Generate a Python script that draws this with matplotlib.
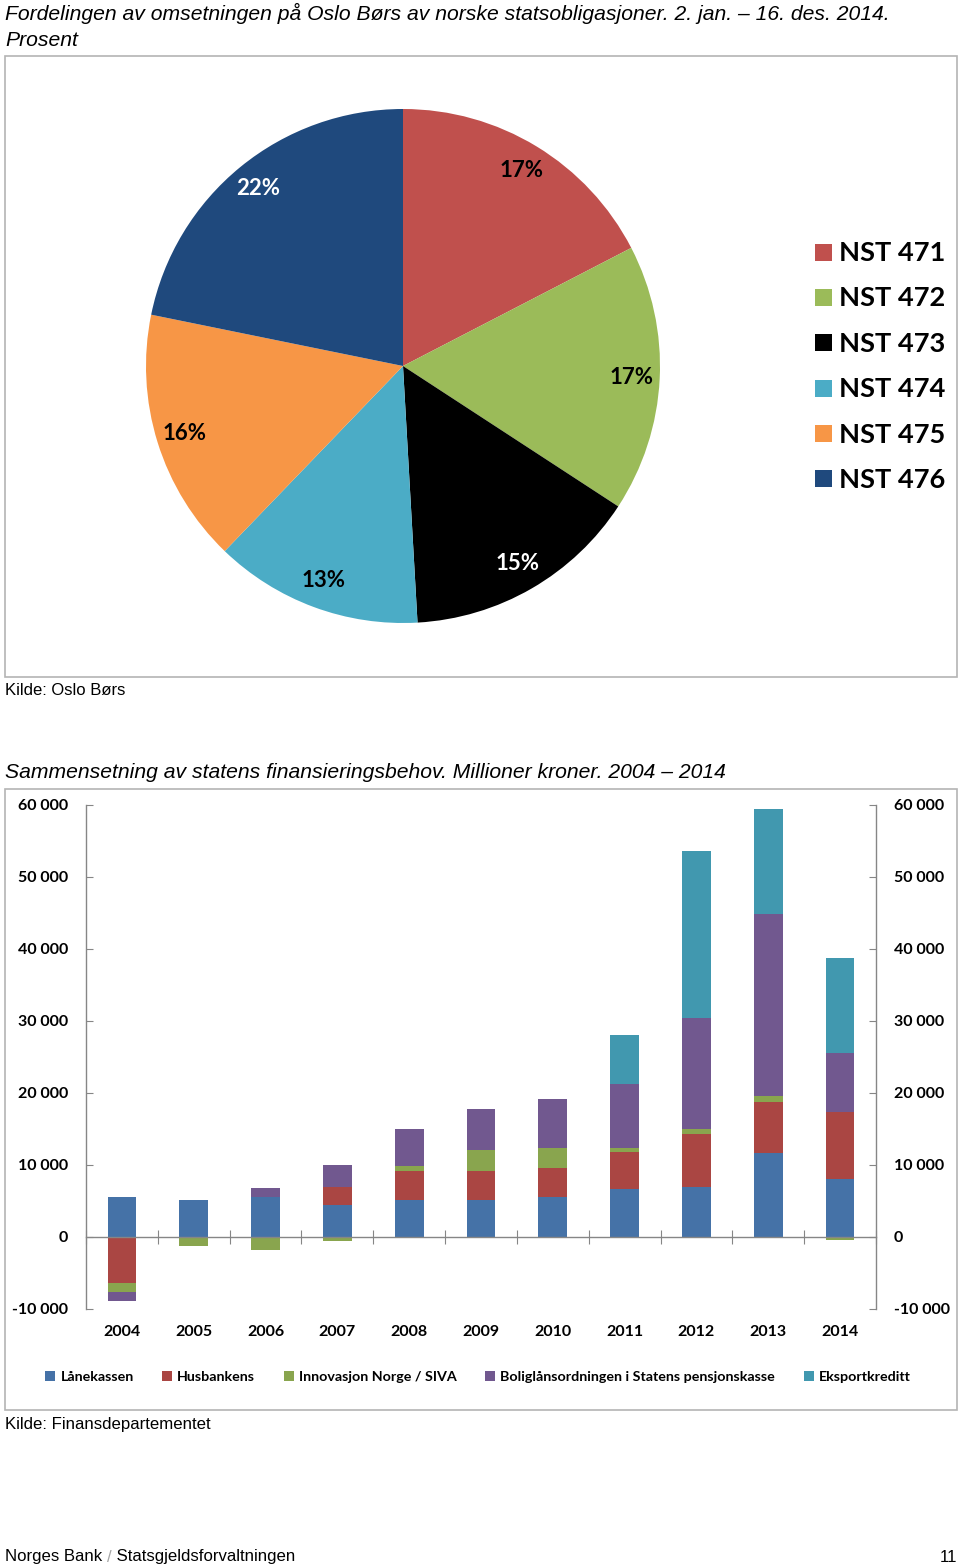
import numpy as np
import matplotlib
matplotlib.use("Agg")
import matplotlib.pyplot as plt
from matplotlib.patches import Rectangle
from matplotlib.ticker import FuncFormatter, FixedLocator
import matplotlib.transforms as mtrans

# ---------------- data ----------------
pie_labels = ["NST 471", "NST 472", "NST 473", "NST 474", "NST 475", "NST 476"]
pie_values = [17.4, 16.8, 14.9, 13.1, 16.0, 21.8]
pie_colors = ["#C0504D", "#9BBB59", "#000000", "#4BACC6", "#F79646", "#1F497D"]
pie_text_colors = ["black", "black", "white", "black", "black", "white"]

years = ["2004", "2005", "2006", "2007", "2008", "2009", "2010", "2011", "2012", "2013", "2014"]
laanekassen = [5500, 5200, 5500, 4500, 5200, 5200, 5600, 6600, 7000, 11600, 8100]
husbanken = [-6400, 0, 0, 2400, 4000, 3950, 4030, 5230, 7360, 7150, 9300]
innovasjon = [-1300, -1200, -1800, -600, 700, 2870, 2780, 470, 600, 790, -400]
boliglaan = [-1200, 0, 1300, 3050, 5040, 5700, 6730, 8980, 15500, 25300, 8200]
eksport = [0, 0, 0, 0, 0, 0, 0, 6720, 23150, 14600, 13150]
series_names = ["Lånekassen", "Husbankens", "Innovasjon Norge / SIVA",
                "Boliglånsordningen i Statens pensjonskasse", "Eksportkreditt"]
series_colors = ["#4572A7", "#AA4643", "#89A54E", "#71588F", "#4198AF"]
yticks = [-10000, 0, 10000, 20000, 30000, 40000, 50000, 60000]

W, H = 960, 1568
def fx(px):
    return px / W
def fy(py):
    return 1 - py / H

fig = plt.figure(figsize=(W / 100, H / 100), dpi=100)

SANS = ["Liberation Sans", "DejaVu Sans"]
NARROW = ["Liberation Sans Narrow", "Liberation Sans", "DejaVu Sans"]
CAL = ["Lato", "DejaVu Sans"]
FRAME = "#B4B4B4"

# ---------------- panel frames ----------------
for (x0, y0, x1, y1) in [(5, 56, 957, 677), (5, 789, 957, 1410)]:
    fig.add_artist(Rectangle((fx(x0), fy(y1)), fx(x1) - fx(x0), fy(y0) - fy(y1),
                             transform=fig.transFigure, fill=False,
                             edgecolor=FRAME, linewidth=1.2))

# ---------------- titles / sources ----------------
fig.text(fx(5), fy(13), "Fordelingen av omsetningen på Oslo Børs av norske statsobligasjoner. 2. jan. – 16. des. 2014.",
         family=SANS, style="italic", fontsize=15.2, va="center", ha="left")
fig.text(fx(5), fy(40), "Prosent", family=SANS, style="italic", fontsize=15.2, va="center", ha="left")
fig.text(fx(5), fy(691), "Kilde: Oslo Børs", family=SANS, fontsize=12, va="center", ha="left")
fig.text(fx(5), fy(772), "Sammensetning av statens finansieringsbehov. Millioner kroner. 2004 – 2014",
         family=SANS, style="italic", fontsize=15.2, va="center", ha="left")
fig.text(fx(5), fy(1424), "Kilde: Finansdepartementet", family=SANS, fontsize=12.1, va="center", ha="left")

# footer
renderer = fig.canvas.get_renderer()
t1 = fig.text(fx(5), fy(1557), "Norges Bank ", family=NARROW, fontsize=12.1, va="center", ha="left")
bb = t1.get_window_extent(renderer)
t2 = fig.text(bb.x1 / W, fy(1557), "/", family=NARROW, fontsize=12.1, va="center", ha="left", color="#A6A6A6")
bb2 = t2.get_window_extent(renderer)
fig.text(bb2.x1 / W, fy(1557), " Statsgjeldsforvaltningen", family=NARROW, fontsize=12.1, va="center", ha="left")
fig.text(fx(957), fy(1557), "11", family=NARROW, fontsize=12.1, va="center", ha="right")

# ---------------- pie ----------------
axp = fig.add_axes([fx(146), fy(623), fx(660) - fx(146), fy(109) - fy(623)])
wedges, texts, autotexts = axp.pie(pie_values, colors=pie_colors, startangle=90, counterclock=False,
                                   autopct="%.0f%%", pctdistance=0.89, radius=1.0,
                                   wedgeprops=dict(linewidth=0))
for at, c in zip(autotexts, pie_text_colors):
    at.set_color(c)
    at.set_fontfamily(CAL)
    at.set_fontweight("bold")
    at.set_fontsize(16)
axp.set_xlim(-1, 1)
axp.set_ylim(-1, 1)
axp.set_aspect("equal")
axp.axis("off")

# pie legend
for i, (lab, col) in enumerate(zip(pie_labels, pie_colors)):
    yc = 252 + i * 45.4
    fig.add_artist(Rectangle((fx(815), fy(yc + 8.5)), fx(832) - fx(815), fy(yc - 8.5) - fy(yc + 8.5),
                             transform=fig.transFigure, facecolor=col, edgecolor="none"))
    fig.text(fx(839), fy(yc + 1), lab, family=CAL, fontweight="bold", fontsize=19.6, va="center", ha="left")

# ---------------- bar chart ----------------
ax = fig.add_axes([fx(86), fy(1309), fx(876) - fx(86), fy(805) - fy(1309)])
x = np.arange(len(years))
bpos = np.zeros(len(years))
bneg = np.zeros(len(years))
handles = []
for name, vals, col in zip(series_names, [laanekassen, husbanken, innovasjon, boliglaan, eksport], series_colors):
    v = np.array(vals, dtype=float)
    pos = np.where(v > 0, v, 0)
    neg = np.where(v < 0, v, 0)
    h = ax.bar(x, pos, bottom=bpos, width=0.40, color=col, label=name, linewidth=0)
    ax.bar(x, neg, bottom=bneg, width=0.40, color=col, linewidth=0)
    bpos += pos
    bneg += neg
    handles.append(h)

ax.set_xlim(-0.5, len(years) - 0.5)
ax.set_ylim(yticks[0], yticks[-1])
AX = "#868686"
ax.spines["top"].set_visible(False)
for s in ["left", "right", "bottom"]:
    ax.spines[s].set_color(AX)
    ax.spines[s].set_linewidth(1.0)
ax.spines["bottom"].set_position(("data", 0))
ax.set_xticks(np.arange(-0.5, len(years), 1.0))
ax.tick_params(axis="x", direction="inout", length=10, color=AX, labelbottom=False)
ax.yaxis.set_major_locator(FixedLocator(yticks))
ax.yaxis.set_major_formatter(FuncFormatter(lambda v, p: f"{int(v):,}".replace(",", " ")))
ax.tick_params(axis="y", left=True, right=True, labelleft=True, labelright=True,
               direction="in", length=5, color=AX, pad=13)
for t in ax.yaxis.get_major_ticks():
    for lab in (t.label1, t.label2):
        lab.set_fontfamily(CAL)
        lab.set_fontweight("bold")
        lab.set_fontsize(11.5)
ax.set_facecolor("none")

trans = mtrans.blended_transform_factory(ax.transData, ax.transAxes)
for xi, yr in zip(x, years):
    ax.text(xi, -23 / 504, yr, transform=trans, ha="center", va="center",
            family=CAL, fontweight="bold", fontsize=11.5)

fig.legend(handles=handles, labels=series_names, loc="center", bbox_to_anchor=(fx(478), fy(1377)),
           ncol=5, frameon=False, handlelength=0.7, handleheight=0.7, handletextpad=0.35,
           columnspacing=2.0, prop=dict(family=CAL, weight="bold", size=10.3))

fig.savefig("out.png", dpi=100, facecolor="white")
